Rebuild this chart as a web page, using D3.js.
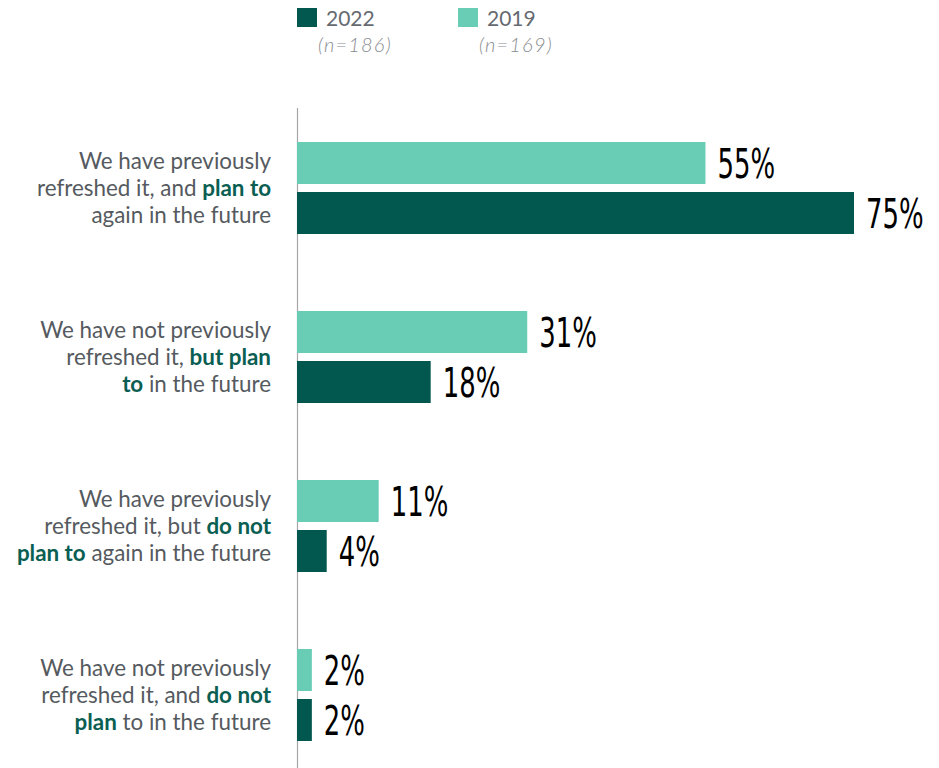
<!DOCTYPE html>
<html><head><meta charset="utf-8">
<script src="https://cdn.jsdelivr.net/npm/d3@7"></script>
<style>body{margin:0;background:#fff;} svg{display:block;}</style>
</head><body>
<svg id="c" width="939" height="768"></svg>
<script>
const categories = ["c1","c2","c3","c4"];
// label lines: segments [text, bold]
const labelLines = [
  [[["We have previously",0]],[["refreshed it, and ",0],["plan to",1]],[["again in the future",0]]],
  [[["We have not previously",0]],[["refreshed it, ",0],["but plan",1]],[["to",1],[" in the future",0]]],
  [[["We have previously",0]],[["refreshed it, but ",0],["do not",1]],[["plan to",1],[" again in the future",0]]],
  [[["We have not previously",0]],[["refreshed it, and ",0],["do not",1]],[["plan",1],[" to in the future",0]]]
];
const seriesNames = ["2019","2022"];
const values2019 = [55,31,11,2];
const values2022 = [75,18,4,2];
const legendLabels = ["2022","2019"];
const legendN = ["(n=186)","(n=169)"];

const colors = {"2019":"#68CDB4","2022":"#02574E"};
const svg = d3.select("#c");
const x = d3.scaleLinear().domain([0,75]).range([297,854]);
const y = d3.scaleBand().domain(categories).range([142,741]).paddingInner(77/169).paddingOuter(0);
const yi = d3.scaleBand().domain(seriesNames).range([0,y.bandwidth()]).paddingInner(8/50).paddingOuter(0);

const data = [];
categories.forEach((c,i)=>{
  data.push({cat:c,s:"2019",v:values2019[i]});
  data.push({cat:c,s:"2022",v:values2022[i]});
});

svg.append("line").attr("x1",297.5).attr("x2",297.5).attr("y1",108).attr("y2",768)
  .attr("stroke","#a6a6a6").attr("stroke-width",1.2);

svg.selectAll("rect.bar").data(data).join("rect").attr("class","bar")
  .attr("x",x(0)).attr("y",d=>y(d.cat)+yi(d.s))
  .attr("width",d=>x(d.v)-x(0)).attr("height",yi.bandwidth())
  .attr("fill",d=>colors[d.s]);

svg.selectAll("text.val").data(data).join("text").attr("class","val")
  .attr("transform",d=>`translate(${x(d.v)+12},${y(d.cat)+yi(d.s)+yi.bandwidth()/2+15}) scale(0.72,1)`)
  .attr("font-family","DejaVu Sans Condensed, DejaVu Sans").attr("font-size",40)
  .attr("fill","#000").text(d=>d.v+"%");

categories.forEach((c,i)=>{
  const cy = y(c)+y.bandwidth()/2;
  labelLines[i].forEach((line,j)=>{
    const t = svg.append("text").attr("x",271).attr("y",cy+8+(j-1)*27)
      .attr("text-anchor","end").attr("font-family","Lato").attr("font-size",22.4).attr("fill","#555a60");
    line.forEach(seg=>{
      t.append("tspan").text(seg[0]).attr("font-weight",seg[1]?700:400)
        .attr("fill",seg[1]?"#0a5e52":"#555a60");
    });
  });
});

// legend
const legX = [297,458];
legendLabels.forEach((l,i)=>{
  svg.append("rect").attr("x",legX[i]).attr("y",8).attr("width",20).attr("height",19).attr("fill",colors[l]);
  svg.append("text").attr("x",legX[i]+29).attr("y",26).attr("font-family","Lato").attr("font-size",21)
    .attr("fill","#666a70").text(l);
  svg.append("text").attr("x",legX[i]+21).attr("y",52).attr("font-family","Lato").attr("font-style","italic")
    .attr("font-weight",300).attr("font-size",20).attr("letter-spacing",1.2).attr("fill","#8a8d91").text(legendN[i]);
});
</script>
</body></html>
